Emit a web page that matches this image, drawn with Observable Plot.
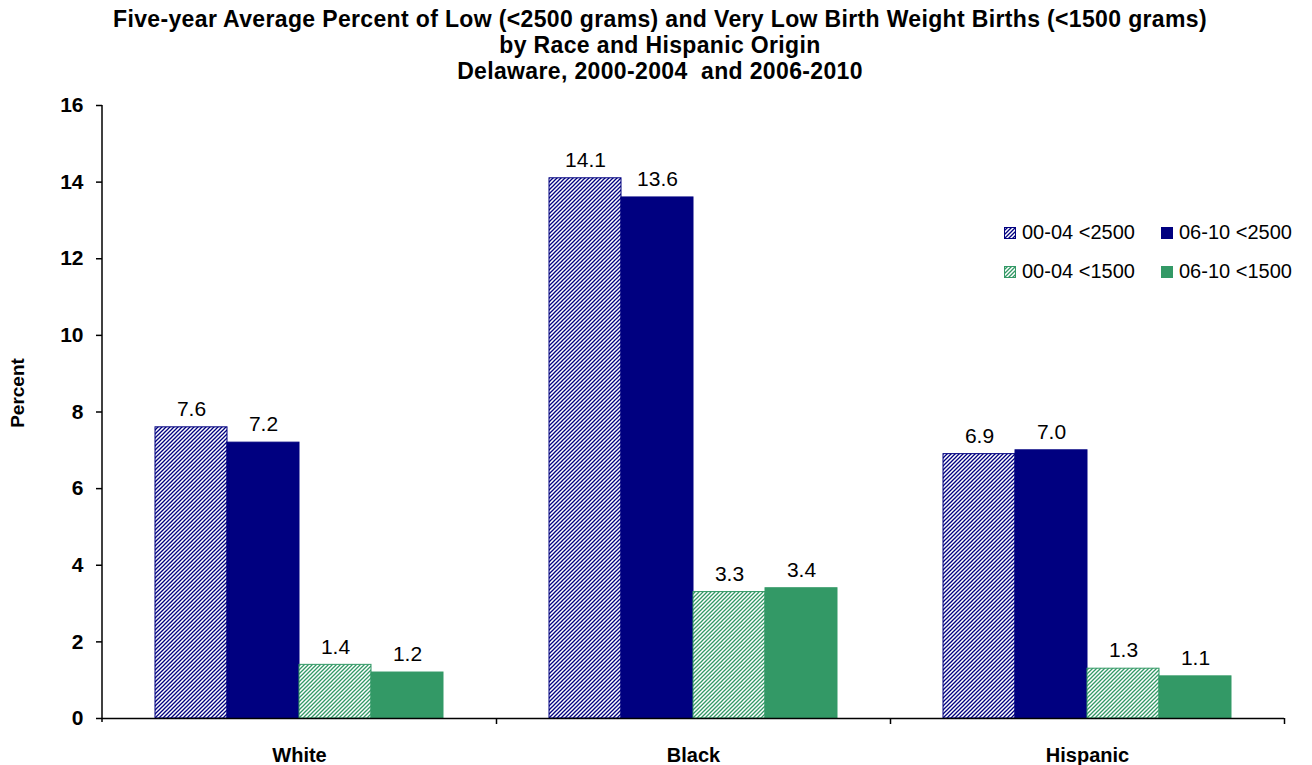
<!DOCTYPE html>
<html>
<head>
<meta charset="utf-8">
<script src="https://cdn.jsdelivr.net/npm/d3@7"></script>
<script src="https://cdn.jsdelivr.net/npm/@observablehq/plot@0.6"></script>
<style>
  body { margin: 0; background: #fff; font-family: "Liberation Sans", Arial, sans-serif; }
  #wrap { position: relative; width: 1312px; height: 765px; overflow: hidden; }
  #title { position: absolute; left: 0; top: 6px; width: 1320px; text-align: center; font-weight: bold;
           font-size: 23px; line-height: 26px; color: #000; letter-spacing: 0.35px; z-index: 2; }
  #title div { white-space: pre; }
  #chart { position: absolute; left: 0; top: 85px; }
  #ylabel { position: absolute; left: 18px; top: 393px; transform: translate(-50%, -50%) rotate(-90deg);
            font-weight: bold; font-size: 19px; white-space: nowrap; }
  .leg { position: absolute; display: flex; align-items: center; font-size: 20px; white-space: pre; }
  .leg svg { margin-right: 6px; }
</style>
</head>
<body>
<div id="wrap">
  <div id="title"></div>
  <div id="chart"></div>
  <div id="ylabel">Percent</div>
  <div id="legend"></div>
</div>
<script>
// ---- data ----
const titleLines = [
  "Five-year Average Percent of Low (<2500 grams) and Very Low Birth Weight Births (<1500 grams)",
  "by Race and Hispanic Origin",
  "Delaware, 2000-2004  and 2006-2010"
];
const races = ["White", "Black", "Hispanic"];
const seriesNames = ["00-04 <2500", "06-10 <2500", "00-04 <1500", "06-10 <1500"];
const low0004 = [7.6, 14.1, 6.9];
const low0610 = [7.2, 13.6, 7.0];
const vlow0004 = [1.4, 3.3, 1.3];
const vlow0610 = [1.2, 3.4, 1.1];
const yTicks = [0, 2, 4, 6, 8, 10, 12, 14, 16];

// ---- styles ----
const navy = "#000080", green = "#339966";
const seriesColor = [navy, navy, green, green];
const seriesFill = ["url(#hatchNavy)", navy, "url(#hatchGreen)", green];

const seriesValues = [low0004, low0610, vlow0004, vlow0610];
const rows = [];
races.forEach((race, r) => {
  seriesNames.forEach((s, k) => {
    rows.push({race, series: s, value: seriesValues[k][r], fill: seriesFill[k], color: seriesColor[k]});
  });
});

const titleEl = document.getElementById("title");
titleLines.forEach(t => {
  const d = document.createElement("div");
  d.textContent = t;
  titleEl.appendChild(d);
});

const W = 1312, H = 680;
const mLeft = 102, mRight = 28, mTop = 20, mBottom = 47;
const facetStep = (W - mLeft - mRight) / races.length;
const font = "'Liberation Sans', Arial, sans-serif";

const plot = Plot.plot({
  width: W,
  height: H,
  marginLeft: mLeft,
  marginRight: mRight,
  marginTop: mTop,
  marginBottom: mBottom,
  style: {fontFamily: font, fontSize: "20px", color: "#000", background: "transparent"},
  fx: {domain: races, paddingInner: 0, paddingOuter: 0, label: null, axis: null},
  x: {domain: seriesNames, paddingInner: 0, paddingOuter: 0.736, axis: null},
  y: {domain: [0, 16], label: null, axis: null},
  color: {type: "identity"},
  marks: [
    Plot.barY(rows, {fx: "race", x: "series", y: "value", fill: "fill", stroke: "color", strokeWidth: 1}),
    Plot.text(rows, {fx: "race", x: "series", y: "value", text: d => d.value.toFixed(1), dy: -18,
                     fontSize: 21, fill: "#000"}),
    Plot.ruleY([0], {stroke: "#000", strokeWidth: 1.5}),
    Plot.axisY({ticks: yTicks, tickSize: 6, tickPadding: 13, fontWeight: "bold", fontSize: 21,
                label: null, stroke: "#000", strokeWidth: 1.5}),
    Plot.axisFx({anchor: "bottom", tickSize: 0, tickPadding: 29, fontWeight: "bold", fontSize: 20, label: null}),
    Plot.axisFx({anchor: "bottom", tickSize: 6, tickFormat: () => "", dx: facetStep / 2, label: null,
                 stroke: "#000", strokeWidth: 1.5})
  ]
});

// hatch patterns
const defs = d3.select(plot).insert("defs", ":first-child");
function hatch(id, color) {
  const p = defs.append("pattern").attr("id", id).attr("patternUnits", "userSpaceOnUse")
    .attr("width", 4).attr("height", 4);
  p.append("rect").attr("width", 4).attr("height", 4).attr("fill", "#fff");
  p.append("path").attr("d", "M-1,1 l2,-2 M0,4 l4,-4 M3,5 l2,-2")
    .attr("stroke", color).attr("stroke-width", 1.3);
}
hatch("hatchNavy", navy);
hatch("hatchGreen", green);

// y axis line
const ys = plot.scale("y");
d3.select(plot).append("line")
  .attr("x1", mLeft).attr("x2", mLeft)
  .attr("y1", ys.apply(16)).attr("y2", ys.apply(0) + 4)
  .attr("stroke", "#000").attr("stroke-width", 1.5);

document.getElementById("chart").appendChild(plot);

// legend
const legPos = [[1004, 233], [1161, 233], [1004, 272], [1161, 272]];
const legend = document.getElementById("legend");
seriesNames.forEach((s, k) => {
  const div = document.createElement("div");
  div.className = "leg";
  div.style.left = legPos[k][0] + "px";
  div.style.top = (legPos[k][1] - 12) + "px";
  div.innerHTML = `<svg width="12" height="12"><rect x="0.5" y="0.5" width="11" height="11" fill="${seriesFill[k]}" stroke="${seriesColor[k]}"/></svg><span>${s}</span>`;
  legend.appendChild(div);
});
</script>
</body>
</html>
